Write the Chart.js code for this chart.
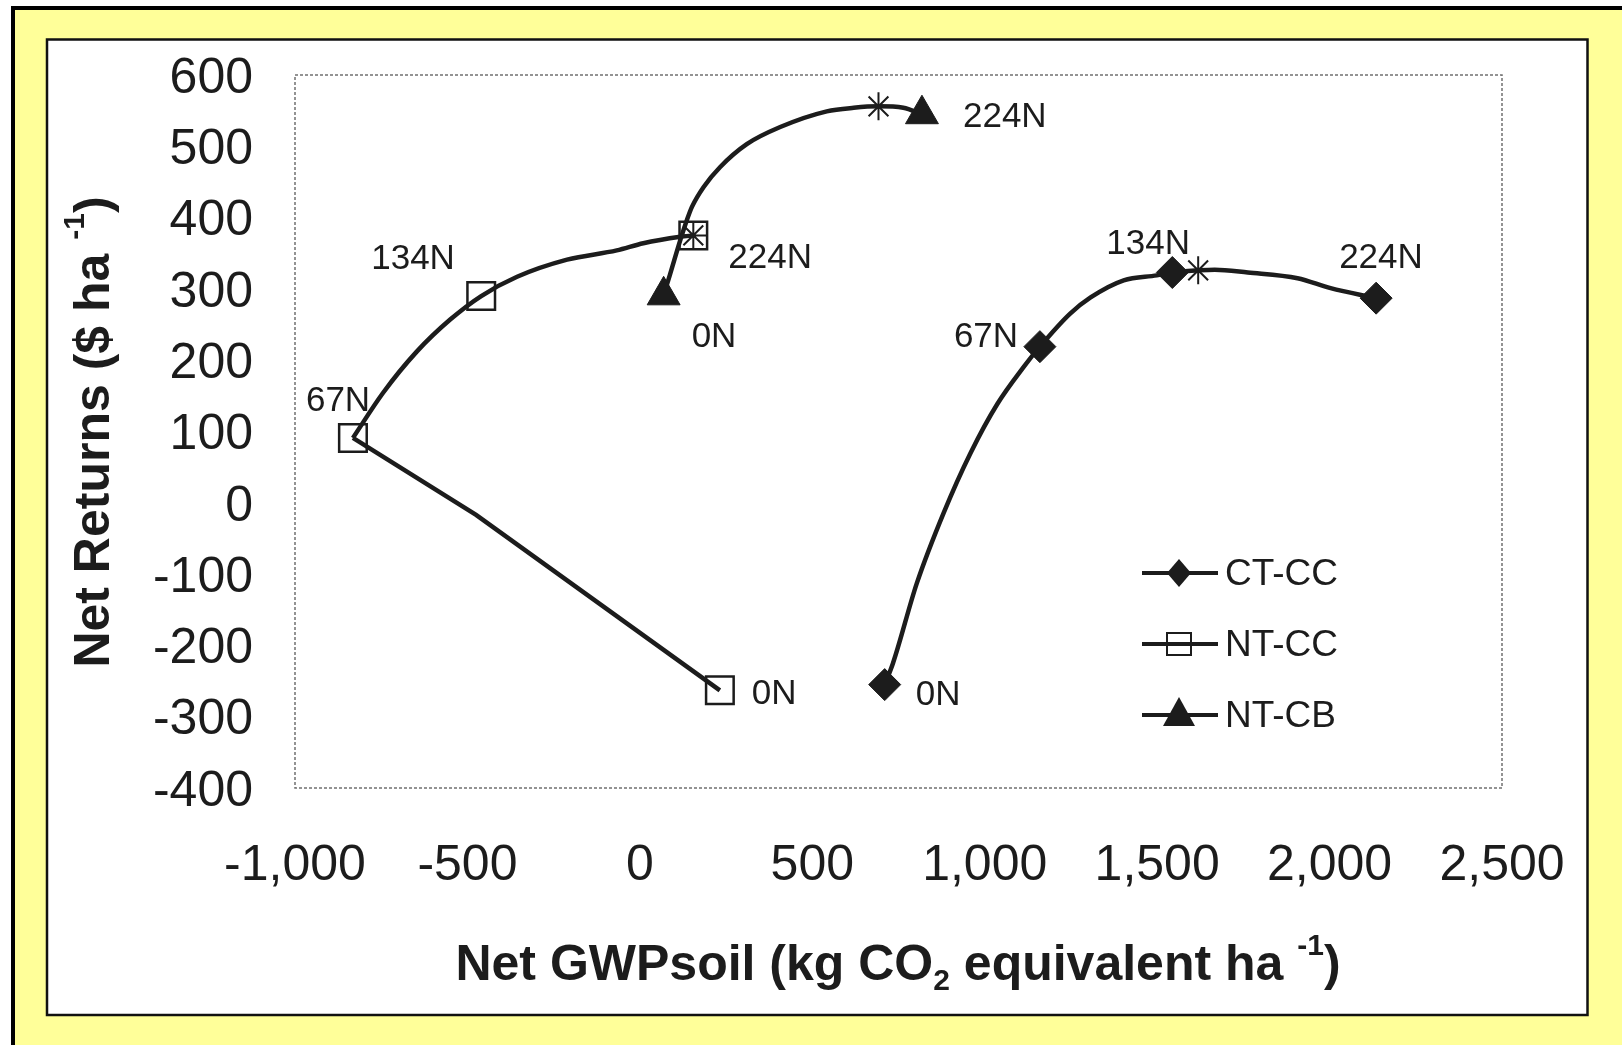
<!DOCTYPE html>
<html lang="en">
<head>
<meta charset="UTF-8">
<title>Net Returns vs Net GWPsoil</title>
<script src="https://cdn.jsdelivr.net/npm/chart.js"></script>
<style>
    html, body { margin: 0; padding: 0; background: #fff; }
    #wrap { width: 1622px; height: 1045px; }
</style>
</head>
<body>
<div id="wrap"><canvas id="gwpChart" width="1622" height="1045"></canvas></div>
<script>
// N rate labels for each treatment point
const nRates = ["0N", "67N", "134N", "224N"];
const ntcbRates = ["0N", "224N"];

// treatment points: x = net GWPsoil, y = net returns
const ctccX = [710, 1160, 1544, 2135];
const ctccY = [-255, 219, 323, 287];
const ntccX = [232, -832, -460, 155];
const ntccY = [-263, 91, 290, 375];
const ntcbX = [69, 818];
const ntcbY = [291, 545];

// optimum points (asterisks)
const optX = [1619, 155, 692];
const optY = [326, 375, 556];

// fitted lines
const ctccCurveX = [710, 734, 803, 881, 959, 1037, 1112, 1160, 1247, 1307, 1403, 1499, 1544, 1619, 1667, 1763, 1907, 2003, 2135];
const ctccCurveY = [-255, -225, -113, -14, 70, 139, 190, 219, 265, 288, 312, 319, 323, 326, 327, 323, 315, 301, 287];
const ntccLowX = [-832, -475, 232];
const ntccLowY = [91, -17, -263];
const ntccUpX = [-832, -745, -647, -550, -460, -356, -211, -67, 10, 117, 155];
const ntccUpY = [91, 154, 212, 257, 290, 317, 341, 354, 364, 373, 375];
const ntcbCurveX = [69, 88, 117, 136, 151, 185, 233, 310, 407, 542, 620, 692, 764, 818];
const ntcbCurveY = [291, 321, 368, 396, 415, 443, 471, 503, 527, 549, 554, 556, 554, 545];

// axis ticks
const xTicks = [-1000, -500, 0, 500, 1000, 1500, 2000, 2500];
const yTicks = [-400, -300, -200, -100, 0, 100, 200, 300, 400, 500, 600];

const legendNames = ["CT-CC", "NT-CC", "NT-CB"];

// label offsets from the marker, in pixels [dx, dy]
const ctccLabelOff = [[31, 11], [-86, -9], [-66, -28], [-37, -40]];
const ntccLabelOff = [[32, 4], [-47, -37], [-110, -37], [35, 23]];
const ntcbLabelOff = [[28, 42], [41, 3]];

const FONT = '"Liberation Sans", Arial, Helvetica, sans-serif';
const INK = '#1c1c1c';

function pts(xs, ys) {
    return xs.map((x, i) => ({ x: x, y: ys[i] }));
}

function curve(xs, ys, smooth) {
    return {
        data: pts(xs, ys),
        showLine: true,
        borderColor: INK,
        borderWidth: 4.5,
        pointRadius: 0,
        tension: smooth ? 0.4 : 0,
        cubicInterpolationMode: smooth ? 'monotone' : 'default',
        order: 2
    };
}

function drawRich(ctx, parts, size, cx, baseY) {
    const big = 'bold ' + size + 'px ' + FONT;
    const small = 'bold ' + Math.round(size * 0.6) + 'px ' + FONT;
    let total = 0;
    parts.forEach(p => {
        ctx.font = p[1] === 'n' ? big : small;
        p.w = ctx.measureText(p[0]).width;
        total += p.w;
    });
    let x = cx - total / 2;
    ctx.textAlign = 'left';
    ctx.textBaseline = 'alphabetic';
    parts.forEach(p => {
        ctx.font = p[1] === 'n' ? big : small;
        let dy = 0;
        if (p[1] === 'sub') dy = size * 0.2;
        if (p[1] === 'sup') dy = -size * 0.5;
        ctx.fillText(p[0], x, baseY + dy);
        x += p.w;
    });
}

function legendMarker(ctx, kind, x, y) {
    ctx.beginPath();
    if (kind === 0) {
        ctx.moveTo(x, y - 14); ctx.lineTo(x + 12, y); ctx.lineTo(x, y + 14); ctx.lineTo(x - 12, y);
        ctx.closePath(); ctx.fillStyle = INK; ctx.fill();
    } else if (kind === 1) {
        ctx.fillStyle = '#fff';
        ctx.rect(x - 12, y - 11, 24, 22);
        ctx.fill();
        ctx.lineWidth = 2; ctx.strokeStyle = INK; ctx.stroke();
        ctx.beginPath(); ctx.moveTo(x - 12, y); ctx.lineTo(x + 12, y); ctx.lineWidth = 4; ctx.stroke();
    } else {
        ctx.moveTo(x, y - 18); ctx.lineTo(x + 16, y + 11); ctx.lineTo(x - 16, y + 11);
        ctx.closePath(); ctx.fillStyle = INK; ctx.fill();
    }
}

const framePlugin = {
    id: 'frame',
    beforeDraw(chart) {
        const ctx = chart.ctx;
        ctx.save();
        ctx.fillStyle = '#fff';
        ctx.fillRect(0, 0, chart.width, chart.height);
        ctx.fillStyle = '#ffff99';
        ctx.fillRect(13, 8, chart.width, chart.height);
        ctx.lineWidth = 4;
        ctx.strokeStyle = '#000';
        ctx.strokeRect(13, 8, chart.width + 20, chart.height + 20);
        ctx.fillStyle = '#fff';
        ctx.fillRect(47, 39.5, 1540.5, 975.5);
        ctx.lineWidth = 2.5;
        ctx.strokeStyle = '#111';
        ctx.strokeRect(47, 39.5, 1540.5, 975.5);
        // plot area border
        const a = chart.chartArea;
        ctx.setLineDash([3, 2]);
        ctx.lineWidth = 1.5;
        ctx.strokeStyle = '#707070';
        ctx.strokeRect(a.left, a.top, a.right - a.left, a.bottom - a.top);
        ctx.restore();
    },
    afterDatasetsDraw(chart) {
        const ctx = chart.ctx;
        const sx = chart.scales.x, sy = chart.scales.y;
        ctx.save();
        ctx.fillStyle = INK;
        ctx.font = '35px ' + FONT;
        ctx.textAlign = 'left';
        ctx.textBaseline = 'middle';
        const groups = [
            [ctccX, ctccY, nRates, ctccLabelOff],
            [ntccX, ntccY, nRates, ntccLabelOff],
            [ntcbX, ntcbY, ntcbRates, ntcbLabelOff]
        ];
        groups.forEach(g => {
            g[0].forEach((v, i) => {
                const px = sx.getPixelForValue(v), py = sy.getPixelForValue(g[1][i]);
                ctx.fillText(g[2][i], px + g[3][i][0], py + g[3][i][1]);
            });
        });

        // legend
        const ly = [573, 644, 715];
        legendNames.forEach((name, i) => {
            ctx.beginPath();
            ctx.moveTo(1142, ly[i]); ctx.lineTo(1218, ly[i]);
            ctx.lineWidth = 4; ctx.strokeStyle = INK; ctx.stroke();
            legendMarker(ctx, i, 1179, ly[i]);
            ctx.fillStyle = INK;
            ctx.font = '37px ' + FONT;
            ctx.textAlign = 'left';
            ctx.textBaseline = 'middle';
            ctx.fillText(name, 1225, ly[i] + 2);
        });

        // axis titles
        ctx.fillStyle = INK;
        drawRich(ctx, [['Net GWPsoil (kg CO', 'n'], ['2', 'sub'], [' equivalent ha ', 'n'], ['-1', 'sup'], [')', 'n']], 50, 898, 980);
        ctx.save();
        ctx.translate(109, 432);
        ctx.rotate(-Math.PI / 2);
        drawRich(ctx, [['Net Returns ($ ha ', 'n'], ['-1', 'sup'], [')', 'n']], 50, 0, 0);
        ctx.restore();
        ctx.restore();
    }
};

new Chart(document.getElementById('gwpChart'), {
    type: 'scatter',
    data: {
        datasets: [
            curve(ctccCurveX, ctccCurveY, true),
            curve(ntccLowX, ntccLowY, false),
            curve(ntccUpX, ntccUpY, true),
            curve(ntcbCurveX, ntcbCurveY, true),
            {
                label: legendNames[0], data: pts(ctccX, ctccY), showLine: false,
                pointStyle: 'rectRot', pointRadius: 16, pointBackgroundColor: INK,
                pointBorderColor: INK, pointBorderWidth: 1, order: 0
            },
            {
                label: legendNames[1], data: pts(ntccX, ntccY), showLine: false,
                pointStyle: 'rect', pointRadius: 19.5, pointBackgroundColor: 'rgba(0,0,0,0)',
                pointBorderColor: INK, pointBorderWidth: 2.5, order: 0
            },
            {
                label: legendNames[2], data: pts(ntcbX, ntcbY), showLine: false,
                pointStyle: 'triangle', pointRadius: 19, pointBackgroundColor: INK,
                pointBorderColor: INK, pointBorderWidth: 1, order: 0
            },
            {
                label: 'optimum', data: pts(optX, optY), showLine: false,
                pointStyle: 'star', pointRadius: 14, pointBackgroundColor: INK,
                pointBorderColor: INK, pointBorderWidth: 2, order: 1
            }
        ]
    },
    options: {
        responsive: false,
        animation: false,
        events: [],
        layout: { padding: { left: 0, top: 75, right: 120, bottom: 0 } },
        plugins: {
            legend: { display: false },
            tooltip: { enabled: false }
        },
        scales: {
            x: {
                type: 'linear', min: -1000, max: 2500,
                afterBuildTicks: s => { s.ticks = xTicks.map(v => ({ value: v })); },
                afterFit: s => { s.height = 257; },
                grid: { display: false },
                border: { display: false },
                ticks: {
                    autoSkip: false, maxRotation: 0, padding: 40, color: INK,
                    font: { family: FONT, size: 50 },
                    callback: v => Number(v).toLocaleString('en-US')
                }
            },
            y: {
                type: 'linear', min: -400, max: 600,
                afterBuildTicks: s => { s.ticks = yTicks.map(v => ({ value: v })); },
                afterFit: s => { s.width = 295; },
                grid: { display: false },
                border: { display: false },
                ticks: {
                    padding: 34, color: INK,
                    font: { family: FONT, size: 50, lineHeight: '8px' },
                    // empty first line nudges each label a few pixels down
                    callback: v => ['', String(v)]
                }
            }
        }
    },
    plugins: [framePlugin]
});
</script>
</body>
</html>
